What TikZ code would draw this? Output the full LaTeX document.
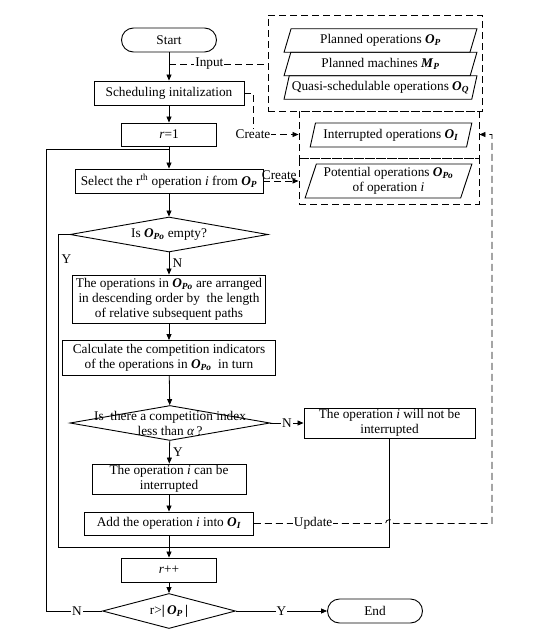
\documentclass[tikz,border=0pt]{standalone}
\usepackage{fontspec}
\setmainfont{Liberation Serif}
\usetikzlibrary{shapes.geometric,arrows.meta,positioning,calc}
\newcommand{\bO}[1]{\textbf{\textit{O}}\textsubscript{\textbf{\textit{#1}}}}
\newcommand{\bM}[1]{\textbf{\textit{M}}\textsubscript{\textbf{\textit{#1}}}}

\begin{document}
\begin{tikzpicture}[
    x=1pt,y=-1pt,
    font=\fontsize{13.3}{15}\selectfont,
    term/.style = {rectangle,rounded corners=12pt,draw,line width=0.9pt,
                   minimum width=95pt,minimum height=24pt,inner sep=1pt},
    proc/.style = {rectangle,draw,line width=0.9pt,align=center,inner sep=1pt},
    dec/.style  = {diamond,draw,line width=0.9pt,inner sep=0pt},
    data/.style = {trapezium,trapezium left angle=70,trapezium right angle=110,
                   trapezium stretches=true,draw,line width=0.9pt,align=center,inner sep=0.5pt},
    grp/.style  = {rectangle,draw,dash pattern=on 7pt off 4pt,line width=0.9pt},
    fl/.style   = {-{Triangle[length=6pt,width=5pt]},line width=0.8pt},
    ln/.style   = {line width=0.8pt},
    dl/.style   = {line width=0.8pt,dash pattern=on 7pt off 4pt},
    tag/.style  = {inner sep=1pt,fill=white},
  ]
  \useasboundingbox (0,0) rectangle (556,637);

  \node[term] (start) at (169,40) {Start};
  \node[proc,minimum width=150pt,minimum height=24pt] (init) at (169,93) {Scheduling initalization};
  \node[proc,minimum width=95pt,minimum height=23pt]  (r1)   at (169,134.5) {\textit{r}=1};
  \node[proc,minimum width=188pt,minimum height=24pt] (sel)  at (169,181)
       {Select the r\textsuperscript{th} operation \textit{i} from \bO{P}};
  \node[dec,minimum width=198pt,minimum height=35pt,label=center:{Is \bO{Po} empty?}] (d1) at (169,234.5) {};
  \node[proc,minimum width=193pt,minimum height=48pt] (sort) at (169,299)
       {The operations in \bO{Po} are arranged\\in descending order by\ \ the length\\of relative subsequent paths};
  \node[proc,minimum width=213pt,minimum height=35pt] (calc) at (169,358)
       {Calculate the competition indicators\\of the operations in \bO{Po}\ \ in turn};
  \node[dec,minimum width=200pt,minimum height=35pt,
        label={[align=center]center:{Is\ \ there a competition index\\less than \textit{α}\,?}}] (d2) at (170,423) {};
  \node[proc,minimum width=171pt,minimum height=30pt] (keep) at (389.5,423)
       {The operation \textit{i} will not be\\interrupted};
  \node[proc,minimum width=154pt,minimum height=30pt] (cut)  at (169,479)
       {The operation \textit{i} can be\\interrupted};
  \node[proc,minimum width=169pt,minimum height=23pt] (add)  at (169,523.5)
       {Add the operation \textit{i} into \bO{I}};
  \node[proc,minimum width=95pt,minimum height=24pt]  (rinc) at (169,570) {\textit{r}++};
  \node[dec,minimum width=133pt,minimum height=35pt,
        label=center:{r>\textbf{|}\,\bO{P}\,\textbf{|}}] (d3) at (169,611) {};
  \node[term] (end) at (375,611) {End};

  \node[grp,minimum width=214pt,minimum height=96pt] (gin)  at (375,63) {};
  \node[grp,minimum width=180pt,minimum height=47pt] (gint) at (389,134.5) {};
  \node[grp,minimum width=180pt,minimum height=46pt] (gpot) at (389,181) {};

  \node[data,minimum width=193pt,minimum height=23.5pt] (pop) at (380.5,40.5) {Planned operations \bO{P}};
  \node[data,minimum width=193pt,minimum height=23.5pt] (pmp) at (380.5,64) {Planned machines \bM{P}};
  \node[data,minimum width=193pt,minimum height=23.5pt] (poq) at (380.5,87.5) {Quasi-schedulable operations \bO{Q}};
  \node[data,minimum width=162pt,minimum height=24pt] (poi) at (391,135) {Interrupted operations \bO{I}};
  \node[data,minimum width=167pt,minimum height=34pt] (ppo) at (388.5,181)
       {Potential operations \bO{Po}\\of operation \textit{i}};

  \foreach \a/\b in {start/init,init/r1,r1/sel,sel/d1,sort/calc,calc/d2,cut/add,add/rinc,rinc/d3}
    \draw[fl] (\a) -- (\b);
  \draw[fl] (d1) -- node[right]{N} (sort);
  \draw[fl] (d2) -- node[right]{Y} (cut);
  \draw[fl] (d2) -- node[tag]{N} (keep);
  \draw[fl] (d3) -- node[tag]{Y} (end);

  \coordinate (yb) at (58,547);
  \coordinate (nb) at (389.5,547);
  \draw[ln] (d1.west) -| node[pos=0.54,right]{Y} (yb) -- (nb) -- (keep.south);

  \coordinate (lb) at (46,611);
  \coordinate (lt) at (46,149);
  \coordinate (lj) at (169,149);
  \draw[ln] (d3.west) -- node[tag,pos=0.45]{N} (lb) -- (lt) -- (lj);

  \coordinate (inp) at (169,64);
  \draw[dl] (inp) -- node[tag,pos=0.41]{Input} (inp -| gin.west);

  \coordinate (c1) at (253,134.5);
  \draw[dl,fl] (init.east) -| (c1) -- (gint.west);
  \node[tag] (cr1) at (c1) {Create};
  \draw[dl,fl] (sel.east) -- node[above,pos=0.45,inner sep=1pt]{Create} (gpot.west);

  \coordinate (u1) at (492,523.5);
  \coordinate (u2) at (492,134.5);
  \draw[dl,fl] (add.east) -- node[tag,pos=0.45]{Update} ($(keep.south |- add.east)+(-4,0)$)
       arc[start angle=180,end angle=0,radius=4pt] -- (u1) -- (u2) -- (gint.east);

\end{tikzpicture}
\end{document}
